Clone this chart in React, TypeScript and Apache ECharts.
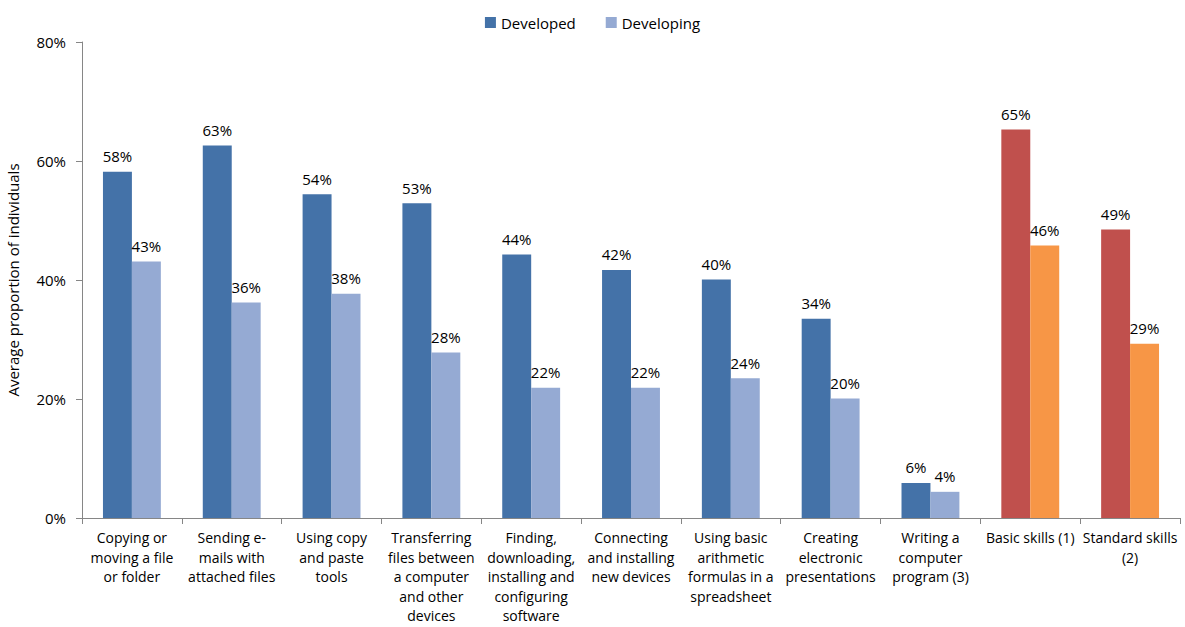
import React, { useEffect, useRef } from "react";
import * as echarts from "echarts";

const categories = [
  "Copying or\nmoving a file\nor folder",
  "Sending e-\nmails with\nattached files",
  "Using copy\nand paste\ntools",
  "Transferring\nfiles between\na computer\nand other\ndevices",
  "Finding,\ndownloading,\ninstalling and\nconfiguring\nsoftware",
  "Connecting\nand installing\nnew devices",
  "Using basic\narithmetic\nformulas in a\nspreadsheet",
  "Creating\nelectronic\npresentations",
  "Writing a\ncomputer\nprogram (3)",
  "Basic skills (1)",
  "Standard skills\n(2)",
];
const developed = [58.2, 62.6, 54.4, 52.9, 44.3, 41.7, 40.1, 33.5, 5.9, 65.3, 48.5];
const developing = [43.1, 36.2, 37.7, 27.8, 21.9, 21.9, 23.5, 20.1, 4.4, 45.8, 29.3];
const summaryCount = 2; // last categories drawn in summary colours

const colDeveloped = "#4472A8";
const colDeveloping = "#95AAD3";
const colSumA = "#C0504D";
const colSumB = "#F79646";

const FONT = "'Open Sans', 'Noto Sans', sans-serif";

export default function App() {
  const ref = useRef<HTMLDivElement>(null);
  useEffect(() => {
    const chart = echarts.init(ref.current!, undefined, { renderer: "svg" });
    const n = categories.length;
    const mk = (vals: number[], base: string, alt: string) =>
      vals.map((v, i) => ({
        value: v,
        itemStyle: { color: i >= n - summaryCount ? alt : base },
      }));
    const label = {
      show: true,
      position: "top" as const,
      distance: 8,
      fontFamily: FONT,
      fontSize: 15,
      color: "#000",
      formatter: (p: any) => Math.round(p.value) + "%",
    };
    chart.setOption({
      animation: false,
      textStyle: { fontFamily: FONT },
      legend: {
        top: 10,
        left: "center",
        itemWidth: 11,
        itemHeight: 11,
        itemGap: 30,
        icon: "rect",
        textStyle: { fontFamily: FONT, fontSize: 15, color: "#000" },
        data: [
          { name: "Developed", itemStyle: { color: colDeveloped } },
          { name: "Developing", itemStyle: { color: colDeveloping } },
        ],
      },
      grid: {
        left: 82,
        right: 5,
        top: 42,
        bottom: 109,
        containLabel: false,
        outerBoundsMode: "none",
      },
      xAxis: {
        type: "category",
        data: categories,
        axisLine: { lineStyle: { color: "#868686" } },
        axisTick: { show: true, alignWithLabel: false, length: 6, lineStyle: { color: "#868686" } },
        axisLabel: {
          interval: 0,
          fontFamily: FONT,
          fontSize: 14,
          color: "#000",
          lineHeight: 19.5,
          margin: 10,
        },
      },
      yAxis: {
        type: "value",
        min: 0,
        max: 80,
        interval: 20,
        name: "Average proportion of individuals",
        nameLocation: "middle",
        nameGap: 62,
        nameTextStyle: { fontFamily: FONT, fontSize: 15, color: "#000" },
        splitLine: { show: false },
        axisLine: { show: true, lineStyle: { color: "#868686" } },
        axisTick: { show: true, length: 6, lineStyle: { color: "#868686" } },
        axisLabel: {
          formatter: "{value}%",
          fontFamily: FONT,
          fontSize: 15,
          color: "#000",
          margin: 16,
        },
      },
      series: [
        {
          name: "Developed",
          type: "bar",
          data: mk(developed, colDeveloped, colSumA),
          itemStyle: { color: colDeveloped },
          barGap: "0%",
          barCategoryGap: "42%",
          label,
        },
        {
          name: "Developing",
          type: "bar",
          data: mk(developing, colDeveloping, colSumB),
          itemStyle: { color: colDeveloping },
          label,
        },
      ],
    });
    return () => chart.dispose();
  }, []);
  return <div ref={ref} style={{ width: 1185, height: 627, position: "absolute", left: 0, top: 0 }} />;
}
